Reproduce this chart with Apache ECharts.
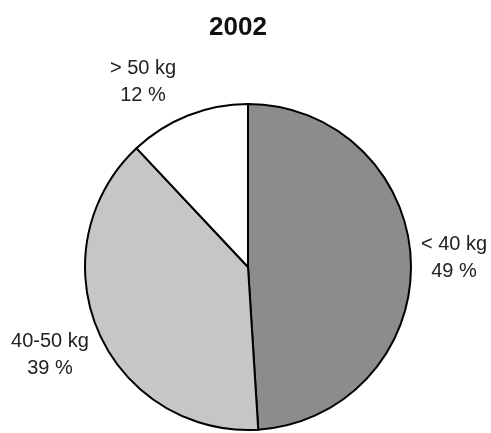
<!DOCTYPE html>
<html>
<head>
<meta charset="utf-8">
<script src="https://cdn.jsdelivr.net/npm/echarts@6/dist/echarts.min.js"></script>
<style>
  html, body { margin: 0; padding: 0; background: #fff; }
  #chart { width: 491px; height: 433px; }
</style>
</head>
<body>
<div id="chart"></div>
<script>
// data
const categories = ['< 40 kg', '40-50 kg', '> 50 kg'];
const shares = [49, 39, 12];
const sliceColors = ['#8c8c8c', '#c6c6c6', '#ffffff'];
// label centres (x, y) per slice
const labelPos = [[454, 258], [50, 355], [143, 82]];

const chart = echarts.init(document.getElementById('chart'));

const option = {
    animation: false,
    title: {
        text: '2002',
        left: 204,
        top: 10,
        textStyle: {
            fontFamily: 'Liberation Sans',
            fontSize: 26,
            fontWeight: 'bold',
            color: '#111'
        }
    },
    series: [
        {
            type: 'pie',
            center: [248, 267],
            radius: 163,
            startAngle: 90,
            clockwise: true,
            data: categories.map((name, i) => ({
                name,
                value: shares[i],
                itemStyle: { color: sliceColors[i] }
            })),
            itemStyle: {
                borderColor: '#000',
                borderWidth: 2
            },
            label: {
                show: true,
                formatter: p => p.name + '\n' + p.value + ' %',
                fontFamily: 'Liberation Sans',
                fontSize: 20,
                lineHeight: 27,
                color: '#222',
                align: 'center',
                verticalAlign: 'middle',
                overflow: 'none',
                width: 120
            },
            labelLine: { show: false },
            labelLayout: params => ({
                x: labelPos[params.dataIndex][0],
                y: labelPos[params.dataIndex][1],
                align: 'center',
                verticalAlign: 'middle'
            }),
            emphasis: { disabled: true }
        }
    ]
};

chart.setOption(option);
</script>
</body>
</html>
